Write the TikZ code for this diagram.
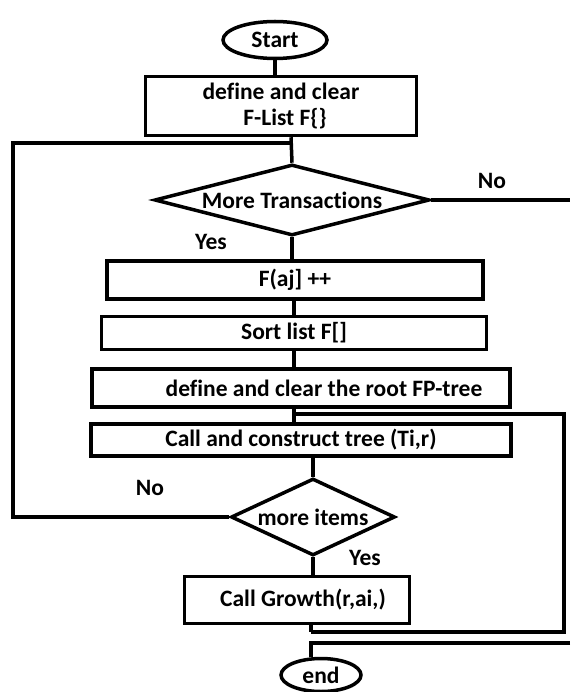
\documentclass[tikz,border=0pt]{standalone}
\usepackage{fontspec}
\setmainfont{Carlito}[Ligatures=NoCommon]
\usetikzlibrary{shapes.geometric,calc}

\begin{document}
\begin{tikzpicture}[x=1pt, y=-1pt,
  line width=3.5pt,
  font=\fontsize{23.5}{26}\selectfont\bfseries,
  term/.style={draw, ellipse, inner sep=0pt},
  procbox/.style={draw, rectangle, inner sep=0pt, align=center},
  decide/.style={draw, diamond, inner sep=0pt},
]
  \useasboundingbox (0,0) rectangle (570,692);
  \fill[white] (0,0) rectangle (570,692);

  % main column
  \node[term, minimum width=104pt, minimum height=37pt] (start) at (275,40) {Start};
  \node[procbox, minimum width=271pt, minimum height=59pt] (deflist) at (281,106) {define and clear\\ \hspace*{8pt}F-List F\{\}};
  \node[decide, minimum width=275pt, minimum height=71pt, shape aspect=3.8] (trans) at (292,200) {More Transactions};
  \node[procbox, minimum width=376pt, minimum height=38pt] (faj) at (295,280) {F(aj] ++};
  \node[procbox, minimum width=385pt, minimum height=33pt] (sortf) at (294,333) {Sort list F[]};
  \node[procbox, minimum width=418pt, minimum height=38pt] (root) at (301,388) {\hspace*{46pt}define and clear the root FP-tree};
  \node[procbox, minimum width=420pt, minimum height=32pt] (construct) at (301,440) {Call and construct tree (Ti,r)};
  \node[decide, minimum width=164pt, minimum height=77pt, shape aspect=2.1] (items) at (313,517) {more items};
  \node[procbox, minimum width=225pt, minimum height=47pt] (growth) at (297,600) {\hspace*{12pt}Call Growth(r,ai,)};
  \node[term, minimum width=80pt, minimum height=33pt] (end) at (321,675) {end};

  % branch labels
  \node (noA) at (492,181) {No};
  \node (yesA) at (211,242) {Yes};
  \node (noB) at (150,488) {No};
  \node (yesB) at (365,558) {Yes};

  % junctions
  \coordinate (loopin) at (291,143);
  \coordinate (leftrail) at (13,143);
  \coordinate (exitR) at (570,200);
  \coordinate (split) at (294,414);
  \coordinate (rejoin) at (311,632);
  \coordinate (backR) at (570,643);
  \coordinate (endin) at (311,643);

  \draw (start) -- (start |- deflist.north);
  \draw (deflist.south -| loopin) -- (trans.north);
  \draw (trans.east) -- (exitR);
  \draw (trans.south) -- (faj.north -| trans.south);
  \draw (faj.south -| split) -- (sortf.north -| split);
  \draw (sortf.south -| split) -- (root.north -| split);
  \draw (root.south -| split) -- (construct.north -| split);
  \draw (split) -- ++(270,0) |- (rejoin);
  \draw (construct.south -| items.north) -- (items.north);
  \draw (items.west) -| (leftrail) -- (loopin);
  \draw (items.south) -- (growth.north -| items.south);
  \draw (growth.south -| rejoin) -- (rejoin);
  \draw (backR) -- (endin) -- (end.north -| endin);
\end{tikzpicture}
\end{document}
